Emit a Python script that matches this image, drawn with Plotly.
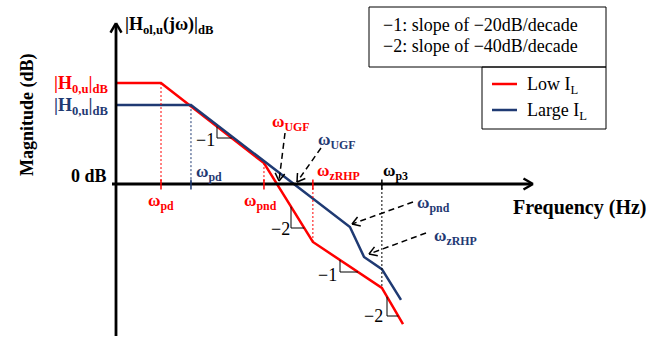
import numpy as np
import plotly.graph_objects as go

W, H = 668, 338
FONT = "Liberation Serif"
RED = "#FF0000"
NAVY = "#1F3A73"

# Asymptotic Bode magnitude of the loop gain: corner frequencies (Hz) and magnitudes (dB)
low_freq = [17.8, 100, 5.2e3, 34e3, 480e3, 1.08e6]
low_mag = [43.9, 43.9, 9.1, -25.2, -45.2, -60.9]
large_freq = [17.8, 316, 141e3, 242e3, 480e3, 1.0e6]
large_mag = [34.3, 34.3, -18.7, -31.7, -37.0, -50.4]

series_names = ["Low I<sub>L</sub>", "Large I<sub>L</sub>"]
slope_notes = ["\u22121: slope of \u221220dB/decade", "\u22122: slope of \u221240dB/decade"]

# drawing scale: 60 px per decade, 2.3 px per dB
X_DEC, Y_DB = 60.0, 2.3
X0_PX, X0_LG = 161, 2.0
Y0_PX = 184


def lg_at(px):
    return X0_LG + (px - X0_PX) / X_DEC


def db_at(py):
    return (Y0_PX - py) / Y_DB


def px_of(lg):
    return X0_PX + (np.asarray(lg) - X0_LG) * X_DEC


def py_of(db):
    return Y0_PX - np.asarray(db) * Y_DB


def P(px, py):
    return px / W, 1 - py / H


fig = go.Figure()
for f, m, c in [(low_freq, low_mag, RED), (large_freq, large_mag, NAVY)]:
    fig.add_trace(go.Scatter(x=np.log10(f), y=m, mode="lines",
                             line=dict(color=c, width=2.5), showlegend=False,
                             hoverinfo="skip"))

shapes = []
annos = []


def seg(x0, y0, x1, y1, color="black", width=1.0, dash=None):
    a, b = P(x0, y0)
    c, d = P(x1, y1)
    shapes.append(dict(type="line", xref="paper", yref="paper", x0=a, y0=b, x1=c, y1=d,
                       line=dict(color=color, width=width, dash=dash)))


def text(px, py, s, size=17, color="black", xanchor="center", yanchor="middle", angle=0):
    x, y = P(px, py)
    annos.append(dict(xref="paper", yref="paper", x=x, y=y, text=s, showarrow=False,
                      xanchor=xanchor, yanchor=yanchor, textangle=angle,
                      font=dict(family=FONT, size=size, color=color)))


def chevron(tx, ty, sx, sy, length, spread, color="black", width=1.5):
    d = np.array([tx - sx, ty - sy], float)
    d /= np.hypot(*d)
    for s in (1, -1):
        ang = np.radians(spread) * s
        r = np.array([d[0] * np.cos(ang) - d[1] * np.sin(ang),
                      d[0] * np.sin(ang) + d[1] * np.cos(ang)])
        seg(tx, ty, tx - length * r[0], ty - length * r[1], color, width)


def dashed_arrow(sx, sy, tx, ty):
    seg(sx, sy, tx, ty, "black", 1.5, "6px,4px")
    chevron(tx, ty, sx, sy, 9, 32)


# axes with open arrowheads
seg(116, 336, 116, 24, "black", 2.8)
chevron(116, 23, 116, 40, 11, 30, width=2.5)
seg(112, Y0_PX, 532, Y0_PX, "black", 2.8)
chevron(533, Y0_PX, 500, Y0_PX, 11, 30, width=2.5)

# guide lines from corner frequencies to the 0 dB axis
lf = np.log10(low_freq)
gf = np.log10(large_freq)
guides = [(lf[1], low_mag[1], 0, RED), (gf[1], large_mag[1], 0, NAVY),
          (lf[2], low_mag[2], 0, RED), (lf[3], 0, low_mag[3], RED),
          (lf[4], 0, low_mag[4], "black")]
for x, y0, y1, c in guides:
    shapes.append(dict(type="line", xref="x", yref="y", x0=x, x1=x, y0=y0, y1=y1,
                       line=dict(color=c, width=1, dash="2px,2px")))
    shapes.append(dict(type="line", xref="x", yref="paper", x0=x, x1=x,
                       y0=1 - 179.5 / H, y1=1 - 189.5 / H,
                       line=dict(color=c, width=1.5)))

# slope triangles on the Low I_L asymptote
lx = px_of(lf)
ly = py_of(low_mag)
for vx, by, lab, tx, ty in [(217, 138, "\u22121", 205, 140), (291, 228, "\u22122", 280, 229),
                            (340, 272, "\u22121", 327, 275), (387, 316, "\u22122", 373, 316)]:
    top = float(np.interp(vx, lx, ly))
    right = float(np.interp(by, ly[1:], lx[1:]))
    seg(vx, top, vx, by, "black", 1)
    seg(vx, by, right, by, "black", 1)
    text(tx, ty, lab, size=18)

# pointers to crossover and corner frequencies
dashed_arrow(285, 133, 279, 181)
dashed_arrow(321, 148, 297, 182)
dashed_arrow(413, 202, 352, 224)
dashed_arrow(426, 233, 369, 254)

# axis titles and level labels
text(123, 26, "<b>|H<sub>ol,u</sub>(j\u03c9)|<sub>dB</sub></b>", size=18, xanchor="left")
text(27, 115, "<b>Magnitude (dB)</b>", size=18, angle=-90)
text(580, 207, "<b>Frequency (Hz)</b>", size=20)
text(109, 176, "<b>0 dB</b>", size=18, xanchor="right")
text(110, py_of(low_mag[0]) + 1, "<b>|H<sub>0,u</sub>|<sub>dB</sub></b>", size=18,
     color=RED, xanchor="right")
text(110, py_of(large_mag[0]) + 1, "<b>|H<sub>0,u</sub>|<sub>dB</sub></b>", size=18,
     color=NAVY, xanchor="right")

# frequency labels
text(161, 202, "<b>\u03c9<sub>pd</sub></b>", color=RED)
text(194, 173, "<b>\u03c9<sub>pd</sub></b>", color=NAVY, xanchor="left")
text(260, 202, "<b>\u03c9<sub>pnd</sub></b>", color=RED)
text(291, 123, "<b>\u03c9<sub>UGF</sub></b>", color=RED)
text(337, 141, "<b>\u03c9<sub>UGF</sub></b>", color=NAVY)
text(315, 172, "<b>\u03c9<sub>zRHP</sub></b>", color=RED, xanchor="left")
text(381, 172, "<b>\u03c9<sub>p3</sub></b>", color="black", xanchor="left")
text(415, 204, "<b>\u03c9<sub>pnd</sub></b>", color=NAVY, xanchor="left")
text(432, 237, "<b>\u03c9<sub>zRHP</sub></b>", color=NAVY, xanchor="left")

# slope note box and series key
shapes.append(dict(type="rect", xref="paper", yref="paper",
                   x0=369 / W, x1=606 / W, y0=1 - 67 / H, y1=1 - 7 / H,
                   line=dict(color="black", width=1)))
shapes.append(dict(type="rect", xref="paper", yref="paper",
                   x0=482 / W, x1=606 / W, y0=1 - 129 / H, y1=1 - 67 / H,
                   line=dict(color="black", width=1)))
for i, note in enumerate(slope_notes):
    text(381, 25 + 21 * i, note, size=18, xanchor="left")
for i, (name, c) in enumerate(zip(series_names, [RED, NAVY])):
    y = 84 + 26 * i
    seg(492, y, 517, y, c, 2.5)
    text(525, y + 1, name, size=18, xanchor="left")

fig.update_layout(
    width=W, height=H, autosize=False,
    margin=dict(l=0, r=0, t=0, b=0),
    paper_bgcolor="white", plot_bgcolor="white",
    xaxis=dict(range=[lg_at(0), lg_at(W)], visible=False, fixedrange=True),
    yaxis=dict(range=[db_at(H), db_at(0)], visible=False, fixedrange=True),
    shapes=shapes, annotations=annos, showlegend=False,
)
fig.write_html("out.html")
